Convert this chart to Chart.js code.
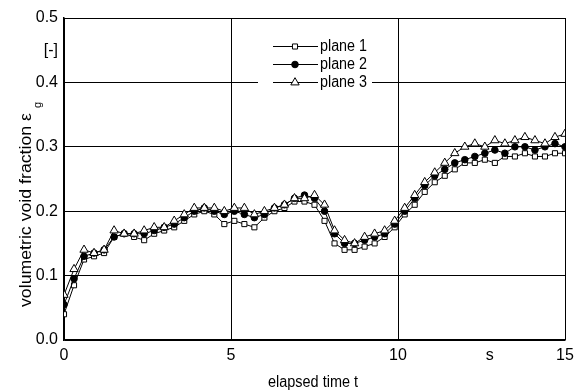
<!DOCTYPE html>
<html>
<head>
<meta charset="utf-8">
<script src="https://cdn.jsdelivr.net/npm/chart.js@4.4.1/dist/chart.umd.min.js"></script>
<style>
  html, body { margin: 0; padding: 0; background: #fff; }
  #wrap { width: 583px; height: 392px; position: relative; }
  canvas { display: block; }
</style>
</head>
<body>
<div id="wrap"><canvas id="voidChart" width="583" height="392"></canvas></div>
<script>
// --- Data ---
const times = [0, 0.3, 0.6, 0.9, 1.2, 1.5, 1.8, 2.1, 2.4, 2.7,
    3.0, 3.3, 3.6, 3.9, 4.2, 4.5, 4.8, 5.1, 5.4, 5.7,
    6.0, 6.3, 6.6, 6.9, 7.2, 7.5, 7.8, 8.1, 8.4, 8.7,
    9.0, 9.3, 9.6, 9.9, 10.2, 10.5, 10.8, 11.1, 11.4, 11.7,
    12.0, 12.3, 12.6, 12.9, 13.2, 13.5, 13.8, 14.1, 14.4, 14.7, 15.0];

const plane1 = [0.040, 0.085, 0.125, 0.130, 0.135, 0.160, 0.165, 0.160, 0.155, 0.165,
    0.170, 0.175, 0.185, 0.195, 0.200, 0.195, 0.180, 0.185, 0.180, 0.175,
    0.190, 0.200, 0.205, 0.215, 0.215, 0.210, 0.185, 0.150, 0.140, 0.140,
    0.145, 0.150, 0.160, 0.175, 0.195, 0.210, 0.230, 0.245, 0.255, 0.265,
    0.275, 0.275, 0.280, 0.275, 0.285, 0.285, 0.290, 0.285, 0.285, 0.290, 0.290];

const plane2 = [0.055, 0.095, 0.130, 0.135, 0.140, 0.160, 0.165, 0.165, 0.165, 0.170,
    0.175, 0.180, 0.190, 0.200, 0.205, 0.200, 0.195, 0.200, 0.195, 0.190,
    0.195, 0.205, 0.210, 0.220, 0.225, 0.220, 0.200, 0.165, 0.150, 0.150,
    0.155, 0.160, 0.165, 0.180, 0.200, 0.220, 0.240, 0.255, 0.265, 0.275,
    0.280, 0.285, 0.290, 0.295, 0.290, 0.300, 0.300, 0.295, 0.300, 0.305, 0.300];

const plane3 = [0.070, 0.110, 0.140, 0.135, 0.140, 0.170, 0.165, 0.165, 0.170, 0.175,
    0.175, 0.185, 0.195, 0.205, 0.205, 0.205, 0.200, 0.205, 0.205, 0.195,
    0.200, 0.205, 0.210, 0.220, 0.220, 0.225, 0.210, 0.170, 0.155, 0.150,
    0.160, 0.165, 0.170, 0.185, 0.205, 0.225, 0.245, 0.260, 0.275, 0.290,
    0.300, 0.305, 0.300, 0.310, 0.305, 0.310, 0.315, 0.310, 0.305, 0.315, 0.320];

const seriesNames = ['plane 1', 'plane 2', 'plane 3'];

// tick positions and their labels (extra ones carry the unit marks)
const xTickValues = [0, 5, 10, 12.75, 15];
const xTickLabels = ['0', '5', '10', 's', '15'];
const yTickValues = [0, 0.1, 0.2, 0.3, 0.4, 0.45, 0.5];
const yTickLabels = ['0.0', '0.1', '0.2', '0.3', '0.4', '[-]', '0.5'];
const unitTicksX = [12.75];
const unitTicksY = [0.45];

const toPoints = (vals) => vals.map((v, i) => ({ x: times[i], y: v }));

const tickFont = { family: 'Liberation Sans, Arial, sans-serif', size: 16 };
const labelFont = "16px 'Liberation Sans', Arial, sans-serif";

// --- Markers (used for data and legend) ---
const styles = [
    { pointStyle: 'rect', radius: 3.6, fill: '#fff' },
    { pointStyle: 'circle', radius: 3.3, fill: '#000' },
    { pointStyle: 'triangle', radius: 4.8, fill: '#fff' }
];

function drawMarker(ctx, st, x, y) {
    ctx.save();
    ctx.lineWidth = 1;
    ctx.strokeStyle = '#000';
    ctx.fillStyle = st.fill;
    ctx.beginPath();
    const r = st.radius;
    if (st.pointStyle === 'rect') {
        const h = r * Math.SQRT1_2;
        ctx.rect(x - h, y - h, 2 * h, 2 * h);
    } else if (st.pointStyle === 'circle') {
        ctx.arc(x, y, r, 0, Math.PI * 2);
    } else {
        ctx.moveTo(x, y - r);
        ctx.lineTo(x + r * 0.866, y + r * 0.5);
        ctx.lineTo(x - r * 0.866, y + r * 0.5);
        ctx.closePath();
    }
    ctx.fill();
    ctx.stroke();
    ctx.restore();
}

// squeeze a string horizontally so it fills exactly `width` px
function squeezedText(ctx, text, x, y, width) {
    const w = ctx.measureText(text).width;
    ctx.save();
    ctx.translate(x, y);
    ctx.scale(width / w, 1);
    ctx.fillText(text, 0, 0);
    ctx.restore();
}

// --- Plugin: axis titles and the boxed legend ---
const decorations = {
    id: 'decorations',
    afterDraw(chart) {
        const ctx = chart.ctx;

        // legend box
        ctx.save();
        ctx.fillStyle = '#fff';
        ctx.fillRect(258, 36, 114, 56);
        const rows = [46, 64, 82];
        seriesNames.forEach((name, i) => {
            const y = rows[i];
            ctx.strokeStyle = '#000';
            ctx.lineWidth = 1;
            ctx.beginPath();
            ctx.moveTo(273, y + 0.5);
            ctx.lineTo(318, y + 0.5);
            ctx.stroke();
            drawMarker(ctx, styles[i], 295, y + 0.5);
            ctx.fillStyle = '#000';
            ctx.font = labelFont;
            ctx.textBaseline = 'middle';
            ctx.textAlign = 'left';
            squeezedText(ctx, name, 320, y + 1, 47);
        });
        ctx.restore();

        // x axis title
        ctx.save();
        ctx.fillStyle = '#000';
        ctx.font = labelFont;
        ctx.textAlign = 'left';
        ctx.textBaseline = 'middle';
        squeezedText(ctx, 'elapsed time t', 268, 383, 90);
        ctx.restore();

        // y axis title with subscript
        ctx.save();
        ctx.translate(27, 307);
        ctx.rotate(-Math.PI / 2);
        ctx.fillStyle = '#000';
        ctx.font = labelFont;
        ctx.textBaseline = 'middle';
        ctx.textAlign = 'left';
        squeezedText(ctx, 'volumetric void fraction ε', 0, 0, 194);
        ctx.font = "11px 'Liberation Sans', Arial, sans-serif";
        ctx.fillText('g', 199, 11);
        ctx.restore();
    }
};

const datasets = [plane1, plane2, plane3].map((vals, i) => ({
    label: seriesNames[i],
    data: toPoints(vals),
    borderColor: '#000',
    borderWidth: 1,
    backgroundColor: styles[i].fill,
    pointStyle: styles[i].pointStyle,
    pointRadius: styles[i].radius,
    pointBorderColor: '#000',
    pointBorderWidth: 1,
    pointBackgroundColor: styles[i].fill,
    tension: 0,
    order: 3 - i
}));

new Chart(document.getElementById('voidChart'), {
    type: 'line',
    data: { datasets },
    options: {
        responsive: false,
        animation: false,
        devicePixelRatio: 1,
        layout: { padding: { top: 18, right: 18, left: 0, bottom: 0 } },
        plugins: { legend: { display: false }, tooltip: { enabled: false } },
        scales: {
            x: {
                type: 'linear',
                min: 0, max: 15,
                afterBuildTicks: (scale) => { scale.ticks = xTickValues.map(v => ({ value: v })); },
                afterFit: (scale) => { scale.height = 52; },
                ticks: {
                    color: '#000', font: tickFont, padding: 6, maxRotation: 0, autoSkip: false,
                    callback: (v) => xTickLabels[xTickValues.indexOf(v)]
                },
                grid: {
                    color: (c) => unitTicksX.includes(c.tick && c.tick.value) ? 'rgba(0,0,0,0)' : '#000',
                    lineWidth: 1, drawTicks: false
                },
                border: { color: '#000', width: 1.5 }
            },
            y: {
                min: 0, max: 0.5,
                afterBuildTicks: (scale) => { scale.ticks = yTickValues.map(v => ({ value: v })); },
                afterFit: (scale) => { scale.width = 64; },
                ticks: {
                    color: '#000', font: tickFont, padding: 6, autoSkip: false,
                    callback: (v) => yTickLabels[yTickValues.indexOf(v)]
                },
                grid: {
                    color: (c) => unitTicksY.includes(c.tick && c.tick.value) ? 'rgba(0,0,0,0)' : '#000',
                    lineWidth: 1, drawTicks: false
                },
                border: { color: '#000', width: 1.5 }
            }
        }
    },
    plugins: [decorations]
});
</script>
</body>
</html>
